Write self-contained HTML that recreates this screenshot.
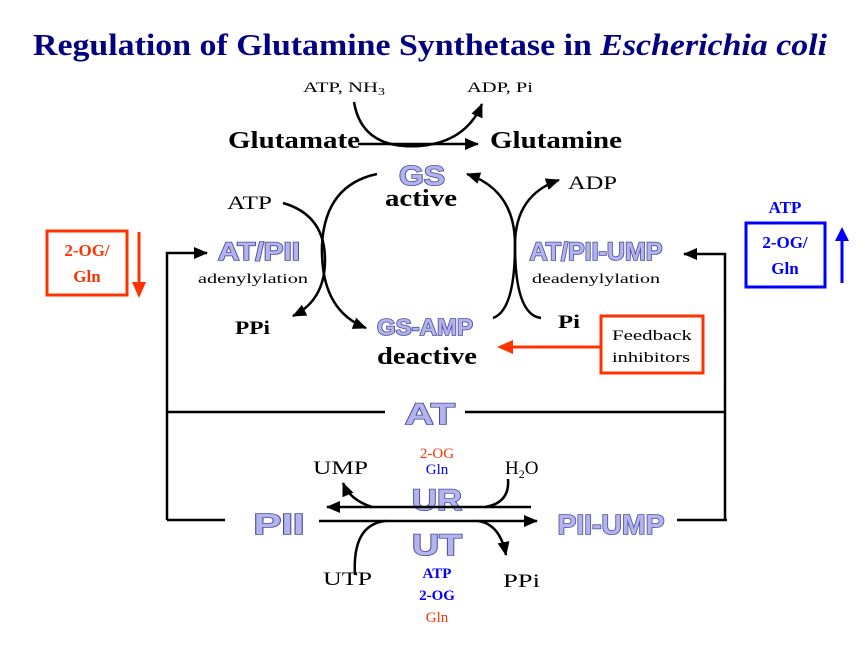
<!DOCTYPE html>
<html><head><meta charset="utf-8"><style>
html,body{margin:0;padding:0;background:#fff;}
svg{display:block}
.s{font-family:"Liberation Serif",serif;}
.o{font-family:"Liberation Sans",sans-serif;font-weight:bold;fill:#b4b4ec;stroke:#4a4aa0;stroke-width:1.6;paint-order:stroke;text-anchor:middle}
</style></head><body>
<svg width="867" height="650" viewBox="0 0 867 650" xmlns="http://www.w3.org/2000/svg">
<defs>
<marker id="b" markerWidth="14" markerHeight="12" refX="13" refY="6" orient="auto" markerUnits="userSpaceOnUse"><path d="M0,0 L14,6 L0,12 Z" fill="#000"/></marker>
</defs>
<g class="s" lengthAdjust="spacingAndGlyphs">
<text x="33" y="55" font-size="31" font-weight="bold" fill="#000080" textLength="794" lengthAdjust="spacingAndGlyphs">Regulation of Glutamine Synthetase in <tspan font-style="italic">Escherichia coli</tspan></text>
<text x="303" y="92" font-size="15" textLength="82" lengthAdjust="spacingAndGlyphs">ATP, NH<tspan font-size="10" dy="3">3</tspan></text>
<text x="467" y="92" font-size="15" textLength="66" lengthAdjust="spacingAndGlyphs">ADP, Pi</text>
<text x="228" y="148" font-size="24" font-weight="bold" textLength="132" lengthAdjust="spacingAndGlyphs">Glutamate</text>
<text x="490" y="148" font-size="24" font-weight="bold" textLength="132" lengthAdjust="spacingAndGlyphs">Glutamine</text>
<text x="385" y="206" font-size="24" font-weight="bold" textLength="72" lengthAdjust="spacingAndGlyphs">active</text>
<text x="227" y="209" font-size="19" textLength="45" lengthAdjust="spacingAndGlyphs">ATP</text>
<text x="568" y="189" font-size="19" textLength="49" lengthAdjust="spacingAndGlyphs">ADP</text>
<text x="235" y="334" font-size="19" font-weight="bold" textLength="35" lengthAdjust="spacingAndGlyphs">PPi</text>
<text x="558" y="328" font-size="19" font-weight="bold" textLength="22" lengthAdjust="spacingAndGlyphs">Pi</text>
<text x="377" y="364" font-size="24" font-weight="bold" textLength="100" lengthAdjust="spacingAndGlyphs">deactive</text>
<text x="198" y="283" font-size="14" textLength="110" lengthAdjust="spacingAndGlyphs">adenylylation</text>
<text x="532" y="283" font-size="14" textLength="128" lengthAdjust="spacingAndGlyphs">deadenylylation</text>
<text x="612" y="340" font-size="15" textLength="80" lengthAdjust="spacingAndGlyphs">Feedback</text>
<text x="612" y="362" font-size="15" textLength="78" lengthAdjust="spacingAndGlyphs">inhibitors</text>
<text x="87" y="256" font-size="17" font-weight="bold" fill="#ff3300" text-anchor="middle">2-OG/</text>
<text x="87" y="282" font-size="17" font-weight="bold" fill="#ff3300" text-anchor="middle">Gln</text>
<text x="785" y="213" font-size="17" font-weight="bold" fill="#0000ff" text-anchor="middle">ATP</text>
<text x="785" y="248" font-size="17" font-weight="bold" fill="#0000ff" text-anchor="middle">2-OG/</text>
<text x="785" y="274" font-size="17" font-weight="bold" fill="#0000ff" text-anchor="middle">Gln</text>
<text x="313" y="474" font-size="19" textLength="55" lengthAdjust="spacingAndGlyphs">UMP</text>
<text x="505" y="474" font-size="19">H<tspan font-size="12" dy="4">2</tspan><tspan dy="-4">O</tspan></text>
<text x="323" y="585" font-size="19" textLength="49" lengthAdjust="spacingAndGlyphs">UTP</text>
<text x="503" y="587" font-size="19" textLength="37" lengthAdjust="spacingAndGlyphs">PPi</text>
<text x="437" y="458" font-size="15" fill="#ff3300" text-anchor="middle">2-OG</text>
<text x="437" y="474" font-size="15" fill="#0000ff" text-anchor="middle">Gln</text>
<text x="437" y="578" font-size="15" font-weight="bold" fill="#0000ff" text-anchor="middle">ATP</text>
<text x="437" y="600" font-size="15" font-weight="bold" fill="#0000ff" text-anchor="middle">2-OG</text>
<text x="437" y="622" font-size="15" fill="#ff3300" text-anchor="middle">Gln</text>
</g>
<g class="o">
<text x="422" y="185" font-size="28" textLength="46" lengthAdjust="spacingAndGlyphs">GS</text>
<text x="259" y="260" font-size="25" textLength="82" lengthAdjust="spacingAndGlyphs">AT/PII</text>
<text x="596" y="260" font-size="25" textLength="133" lengthAdjust="spacingAndGlyphs">AT/PII-UMP</text>
<text x="425" y="335" font-size="23" textLength="96" lengthAdjust="spacingAndGlyphs">GS-AMP</text>
<text x="430" y="424" font-size="30" textLength="50" lengthAdjust="spacingAndGlyphs">AT</text>
<text x="437" y="510" font-size="30" textLength="50" lengthAdjust="spacingAndGlyphs">UR</text>
<text x="437" y="555" font-size="30" textLength="50" lengthAdjust="spacingAndGlyphs">UT</text>
<text x="279" y="534" font-size="29" textLength="51" lengthAdjust="spacingAndGlyphs">PII</text>
<text x="611" y="534" font-size="28" textLength="107" lengthAdjust="spacingAndGlyphs">PII-UMP</text>
</g>
<g fill="none" stroke="#000" stroke-width="2.5">
<path d="M358,144 L478,144" marker-end="url(#b)"/>
<path d="M354,102 Q362,150 420,146 Q466,142 482,104" marker-end="url(#b)"/>
<path d="M283,203 Q325,215 325,260 Q325,300 293,316" marker-end="url(#b)"/>
<path d="M377,174 Q325,185 322,245 Q320,310 366,328" marker-end="url(#b)"/>
<path d="M493,318 Q515,310 515,245 Q515,190 467,174" marker-end="url(#b)"/>
<path d="M541,318 Q515,315 515,245 Q515,195 559,180" marker-end="url(#b)"/>
<path d="M167,520 L167,253 L207,253" marker-end="url(#b)"/>
<path d="M725,520 L725,254 L684,254" marker-end="url(#b)"/>
<path d="M167,412 L385,412 M465,412 L725,412"/>
<path d="M167,520 L225,520 M677,520 L727,520"/>
<path d="M531,507 L327,507" marker-end="url(#b)"/>
<path d="M319,521 L537,521" marker-end="url(#b)"/>
<path d="M372,507 Q350,500 343,483" marker-end="url(#b)"/>
<path d="M508,479 Q510,503 485,507"/>
<path d="M355,575 Q352,525 385,521"/>
<path d="M478,521 Q500,524 506,555" marker-end="url(#b)"/>
</g>
<rect x="47" y="231" width="80" height="64" fill="none" stroke="#ff3300" stroke-width="3"/>
<line x1="139" y1="232" x2="139" y2="283" stroke="#ff3300" stroke-width="3"/>
<path d="M132,282 L146,282 L139,298 Z" fill="#ff3300"/>
<rect x="746" y="223" width="79" height="64" fill="none" stroke="#0000ff" stroke-width="3"/>
<line x1="842" y1="283" x2="842" y2="240" stroke="#0000ff" stroke-width="3"/>
<path d="M835,241 L849,241 L842,227 Z" fill="#0000ff"/>
<rect x="601" y="316" width="102" height="57" fill="none" stroke="#ff3300" stroke-width="3"/>
<line x1="601" y1="347" x2="512" y2="347" stroke="#ff3300" stroke-width="3"/>
<path d="M513,340 L513,354 L497,347 Z" fill="#ff3300"/>
</svg>
</body></html>
